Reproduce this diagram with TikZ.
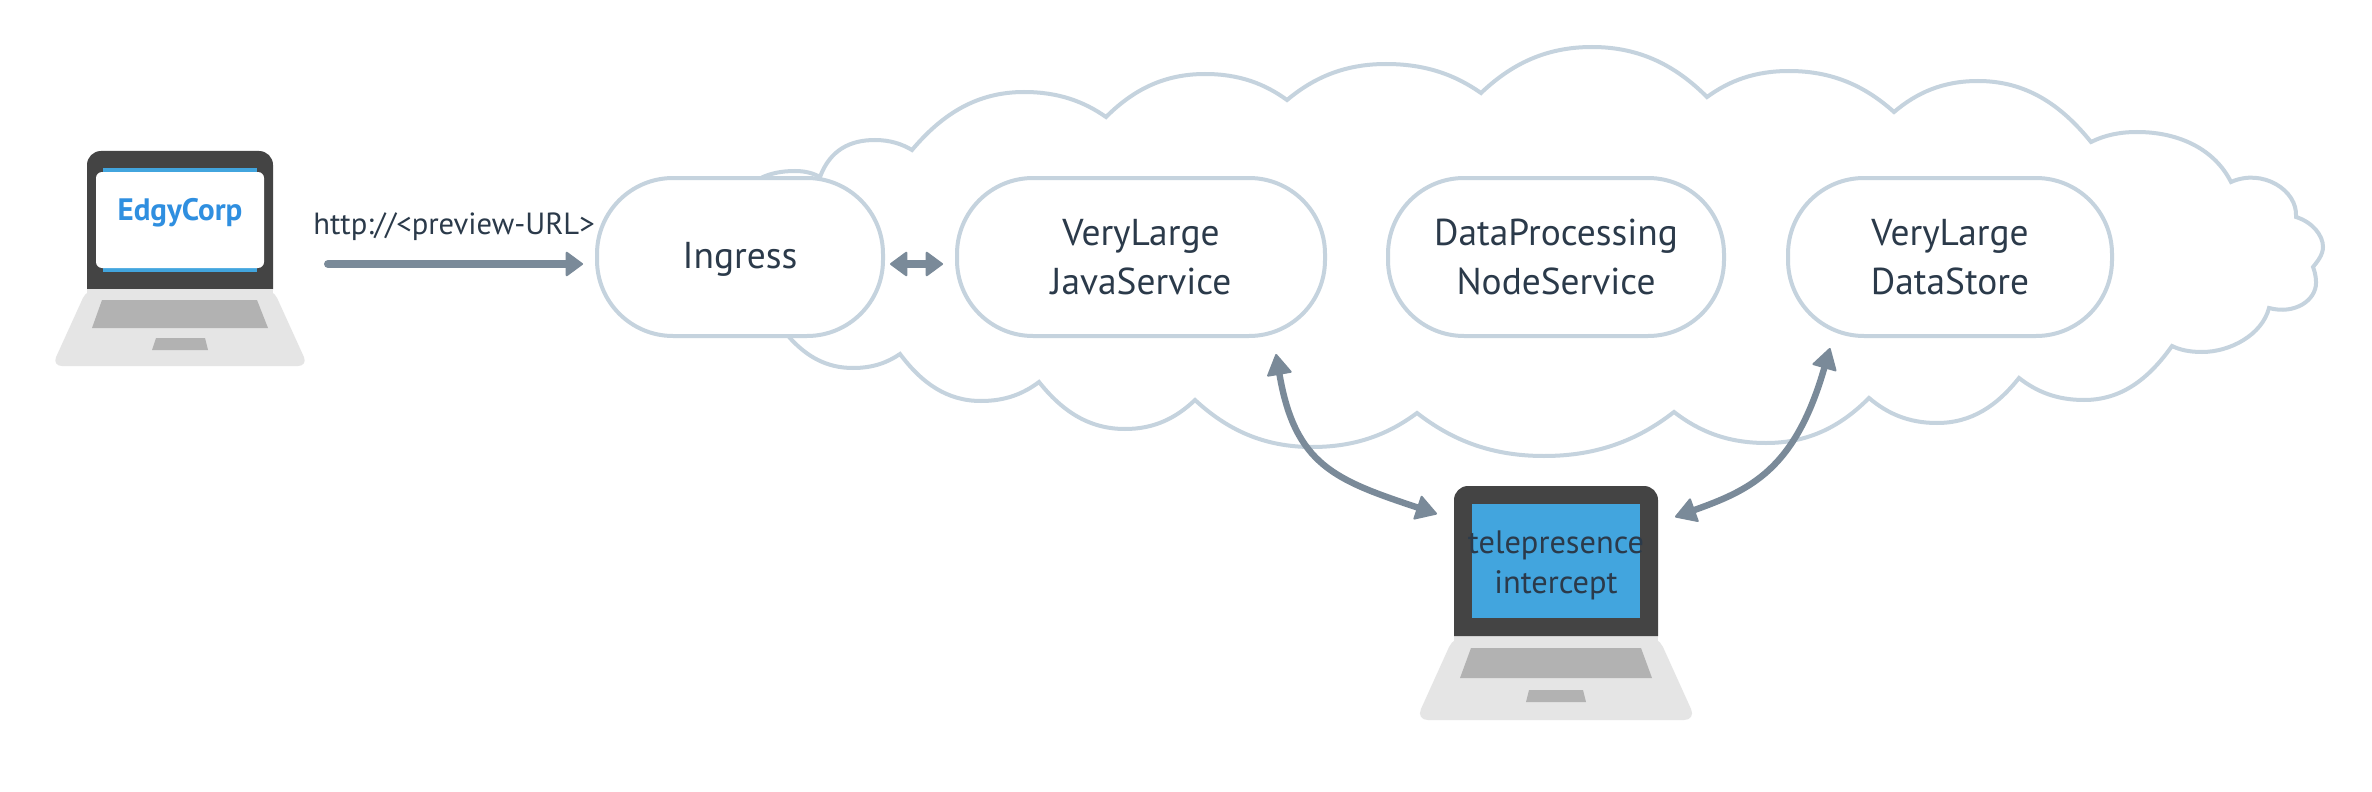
\documentclass[tikz,border=0pt]{standalone}
\usepackage{fontspec}
\setmainfont{PT Sans}
\usetikzlibrary{arrows.meta}
\definecolor{bezel}{HTML}{444444}
\definecolor{basecol}{HTML}{E5E5E5}
\definecolor{keycol}{HTML}{B2B2B2}
\definecolor{screenblue}{HTML}{42A5DE}
\definecolor{cloudline}{HTML}{C5D3DE}
\definecolor{arrowcol}{HTML}{7A8A99}
\definecolor{inkcol}{HTML}{2B3A4A}
\definecolor{edgyblue}{HTML}{2F8FE0}
\newcommand\bump[6]{.. controls ({#1+0.27*(#3-#1)},{#2+0.62*(#4-#2)}) and ({#3-0.42*(#3-#1)},#4) .. (#3,#4) .. controls ({#3+0.42*(#5-#3)},#4) and ({#5-0.27*(#5-#3)},{#6+0.62*(#4-#6)}) .. (#5,#6)}
\tikzset{
  svc/.style={draw=cloudline,fill=white,line width=2pt,rounded corners=38pt,minimum height=79pt,inner sep=0pt,outer sep=0pt,align=center,text=inkcol,font=\fontsize{18.7}{24.5}\selectfont},
  flow/.style={draw=arrowcol,line width=4pt,line cap=round,{Triangle[length=9pt,width=13pt,round,line width=1pt]}-{Triangle[length=9pt,width=13pt,round,line width=1pt]}},
  flowone/.style={draw=arrowcol,line width=4pt,line cap=round,-{Triangle[length=9pt,width=13pt,round,line width=1pt]}},
  curvy/.style={draw=arrowcol,line width=3.2pt,{Triangle[length=11pt,width=13pt,round,line width=1pt]}-{Triangle[length=11pt,width=13pt,round,line width=1pt]}},
  lbl/.style={text=inkcol,inner sep=0pt,align=center}
}
\begin{document}
\begin{tikzpicture}[x=0.5pt,y=-0.5pt]
\useasboundingbox (0,0) rectangle (2372,792);
\fill[white] (0,0) rectangle (2372,792);
% cloud
\draw[cloudline,line width=2pt,line join=miter]
  (789,337) -- (763,177) \bump{763}{177}{795}{171}{820}{177}
  .. controls (830,150) and (850,140) .. (875,140)
  .. controls (890,140) and (902,144) .. (912,150)
  \bump{912}{150}{1024}{92}{1106}{117}
  \bump{1106}{117}{1205}{74}{1287}{100}
  \bump{1287}{100}{1386}{64}{1481}{93}
  \bump{1481}{93}{1592}{47}{1707}{97}
  \bump{1707}{97}{1789}{71}{1894}{112}
  \bump{1894}{112}{1978}{81}{2091}{142}
  .. controls (2105,135) and (2120,132) .. (2137,132)
  .. controls (2180,132) and (2215,150) .. (2231,182)
  .. controls (2262,168) and (2298,190) .. (2296,217)
  .. controls (2312,222) and (2323,235) .. (2323,247)
  .. controls (2323,255) and (2317,262) .. (2313,267)
  .. controls (2316,275) and (2316,280) .. (2316,283)
  .. controls (2316,300) and (2295,315) .. (2269,308)
  .. controls (2262,335) and (2230,352) .. (2202,352)
  .. controls (2190,352) and (2180,350) .. (2172,346)
  \bump{2172}{346}{2084}{400}{2019}{378}
  \bump{2019}{378}{1937}{423}{1869}{398}
  \bump{1869}{398}{1766}{443}{1674}{412}
  \bump{1674}{412}{1544}{456}{1417}{413}
  \bump{1417}{413}{1312}{447}{1195}{400}
  \bump{1195}{400}{1125}{429}{1039}{382}
  \bump{1039}{382}{981}{401}{900}{354}
  \bump{900}{354}{853}{368}{789}{337};
% services
\node[svc,minimum width=143pt] (ingress) at (740,257) {\raisebox{-5.5pt}[0pt][0pt]{Ingress}};
\node[svc,minimum width=184pt] (java) at (1141,257) {VeryLarge\\JavaService};
\node[svc,minimum width=168pt] (proc) at (1556,257) {DataProcessing\\NodeService};
\node[svc,minimum width=162pt] (store) at (1950,257) {VeryLarge\\DataStore};
% left laptop
\fill[basecol,rounded corners=5pt] (87,289) -- (273,289) -- (308,366) -- (52,366) -- cycle;
\fill[bezel] (87,289) -- (87,165) arc[start angle=180,end angle=270,radius=14] -- (259,151) arc[start angle=270,end angle=360,radius=14] -- (273,289) -- cycle;
\fill[basecol] (87,289) rectangle (273,300);
\fill[keycol] (102,300) -- (257,300) -- (268,328) -- (92,328) -- cycle;
\fill[keycol] (156,338) -- (205,338) -- (208,350) -- (152,350) -- cycle;
\fill[screenblue] (103,168) rectangle (257,272);
\fill[white,rounded corners=3pt] (96,172) rectangle (264,268);
\node[text=edgyblue,inner sep=0pt,font=\fontsize{15.5}{20}\selectfont\bfseries] (edgy) at (180,213) {EdgyCorp};
% right laptop
\fill[basecol,rounded corners=6pt] (1454,636) -- (1658,636) -- (1696,720) -- (1416,720) -- cycle;
\fill[basecol] (1454,636) rectangle (1658,645);
\fill[bezel] (1454,636) -- (1454,500) arc[start angle=180,end angle=270,radius=14] -- (1644,486) arc[start angle=270,end angle=360,radius=14] -- (1658,636) -- cycle;
\fill[keycol] (1471,648) -- (1641,648) -- (1652,678) -- (1460,678) -- cycle;
\fill[keycol] (1529,690) -- (1583,690) -- (1586,702) -- (1526,702) -- cycle;
\fill[screenblue] (1472,504) rectangle (1640,618);
\node[lbl,font=\fontsize{16.2}{20}\selectfont] (tele) at (1556,565) {telepresence\\[0pt]intercept};
% connector label and connectors
\node[lbl,font=\fontsize{15.3}{18}\selectfont] (url) at (454,227) {http://<preview-URL>};
\coordinate (src) at (328,264);
\coordinate (ingw) at (583,264);
\coordinate (inge) at (890,264);
\coordinate (javw) at (943,264);
\coordinate (javs) at (1276,354);
\coordinate (telw) at (1437,514);
\coordinate (stos) at (1830,348);
\coordinate (tele2) at (1675,517);
\draw[flowone] (src) -- (ingw);
\draw[flow] (inge) -- (javw);
\draw[curvy] (javs) .. controls (1295,465) and (1335,480) .. (telw);
\draw[curvy] (stos) .. controls (1795,470) and (1750,490) .. (tele2);
\end{tikzpicture}
\end{document}
